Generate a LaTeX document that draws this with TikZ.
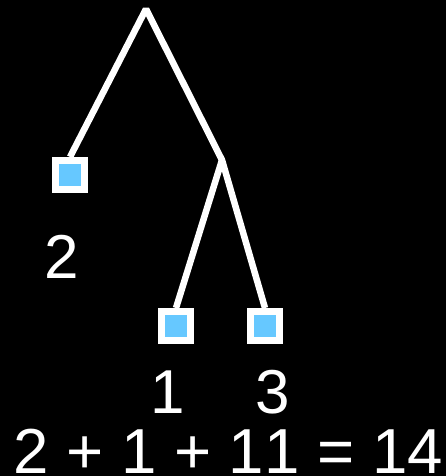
\documentclass[tikz,border=0pt]{standalone}
\usepackage{fontspec}
\setmainfont{Liberation Sans}[Kerning=Off]
\definecolor{leafblue}{HTML}{66C8FF}
\begin{document}
\begin{tikzpicture}[x=1pt,y=-1pt,
  leaf/.style={rectangle,draw=white,line width=7pt,fill=leafblue,minimum size=29pt,inner sep=0pt},
  edge/.style={draw=white,line width=6.5pt,line join=bevel},
  lbl/.style={text=white,font=\fontsize{62}{62}\selectfont,inner sep=0pt,anchor=base}]
\fill[black] (0,0) rectangle (446,476);
\useasboundingbox (0,0) rectangle (446,476);
\coordinate (root) at (146,9);
\coordinate (junc) at (222,160);
\node[leaf] (l2) at (70,175) {};
\node[leaf] (l1) at (176,326) {};
\node[leaf] (l3) at (265,326) {};
\draw[edge] (l2.north) -- (root) -- (junc) -- (l3.north);
\draw[edge] (junc) -- (l1.north);
\node[leaf] at (l2) {};
\node[leaf] at (l1) {};
\node[leaf] at (l3) {};
\node[lbl] (t2) at (61.5,278) {2};
\node[lbl] (t1) at (167.5,413) {1};
\node[lbl] (t3) at (273,413) {3};
\node[lbl,anchor=base west,font=\fontsize{63.6}{64}\selectfont] (eq) at (13,473) {\raisebox{0pt}[\height][0pt]{2 + 1 + 11 = 14}};
\end{tikzpicture}
\end{document}
